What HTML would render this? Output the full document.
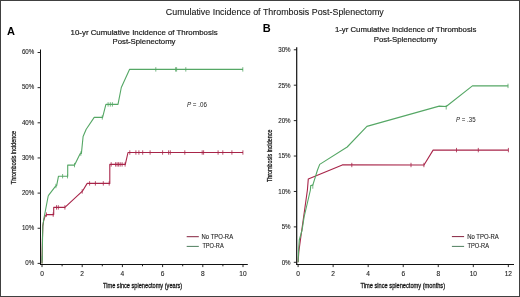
<!DOCTYPE html>
<html><head><meta charset="utf-8"><style>
html,body{margin:0;padding:0;background:#fff;}
body{width:520px;height:297px;overflow:hidden;}
svg{display:block;will-change:transform;}
text{font-family:"Liberation Sans", sans-serif;}
</style></head><body>
<svg width="520" height="297" viewBox="0 0 520 297">
<rect x="0" y="0" width="520" height="297" fill="#fff"/>
<text x="165.8" y="15.0" font-size="9.8" text-anchor="start" font-weight="normal" fill="#1a1a1a" textLength="218" lengthAdjust="spacingAndGlyphs" stroke="#1a1a1a" stroke-width="0.12">Cumulative Incidence of Thrombosis Post-Splenectomy</text>
<text x="6.9" y="34.6" font-size="11" text-anchor="start" font-weight="bold" fill="#000" >A</text>
<text x="70.6" y="34.8" font-size="8.0" text-anchor="start" font-weight="normal" fill="#1a1a1a" textLength="147" lengthAdjust="spacingAndGlyphs" stroke="#1a1a1a" stroke-width="0.2">10-yr Cumulative Incidence of Thrombosis</text>
<text x="112.5" y="44.2" font-size="8.0" text-anchor="start" font-weight="normal" fill="#1a1a1a" textLength="63" lengthAdjust="spacingAndGlyphs" stroke="#1a1a1a" stroke-width="0.2">Post-Splenectomy</text>
<line x1="40.5" y1="49.5" x2="40.5" y2="265" stroke="#111" stroke-width="1"/>
<line x1="40.0" y1="264.5" x2="247.8" y2="264.5" stroke="#111" stroke-width="1"/>
<line x1="37.6" y1="263.40" x2="40.5" y2="263.40" stroke="#111" stroke-width="0.9"/>
<text x="34.3" y="265.2" font-size="6.8" text-anchor="end" font-weight="normal" fill="#222" textLength="8.96" lengthAdjust="spacingAndGlyphs" stroke="#222" stroke-width="0.1">0%</text>
<line x1="37.6" y1="228.25" x2="40.5" y2="228.25" stroke="#111" stroke-width="0.9"/>
<text x="34.3" y="230.04999999999998" font-size="6.8" text-anchor="end" font-weight="normal" fill="#222" textLength="12.41" lengthAdjust="spacingAndGlyphs" stroke="#222" stroke-width="0.1">10%</text>
<line x1="37.6" y1="193.10" x2="40.5" y2="193.10" stroke="#111" stroke-width="0.9"/>
<text x="34.3" y="194.89999999999998" font-size="6.8" text-anchor="end" font-weight="normal" fill="#222" textLength="12.41" lengthAdjust="spacingAndGlyphs" stroke="#222" stroke-width="0.1">20%</text>
<line x1="37.6" y1="157.95" x2="40.5" y2="157.95" stroke="#111" stroke-width="0.9"/>
<text x="34.3" y="159.75" font-size="6.8" text-anchor="end" font-weight="normal" fill="#222" textLength="12.41" lengthAdjust="spacingAndGlyphs" stroke="#222" stroke-width="0.1">30%</text>
<line x1="37.6" y1="122.80" x2="40.5" y2="122.80" stroke="#111" stroke-width="0.9"/>
<text x="34.3" y="124.59999999999998" font-size="6.8" text-anchor="end" font-weight="normal" fill="#222" textLength="12.41" lengthAdjust="spacingAndGlyphs" stroke="#222" stroke-width="0.1">40%</text>
<line x1="37.6" y1="87.65" x2="40.5" y2="87.65" stroke="#111" stroke-width="0.9"/>
<text x="34.3" y="89.44999999999997" font-size="6.8" text-anchor="end" font-weight="normal" fill="#222" textLength="12.41" lengthAdjust="spacingAndGlyphs" stroke="#222" stroke-width="0.1">50%</text>
<line x1="37.6" y1="52.50" x2="40.5" y2="52.50" stroke="#111" stroke-width="0.9"/>
<text x="34.3" y="54.3" font-size="6.8" text-anchor="end" font-weight="normal" fill="#222" textLength="12.41" lengthAdjust="spacingAndGlyphs" stroke="#222" stroke-width="0.1">60%</text>
<line x1="42.00" y1="264.5" x2="42.00" y2="267.1" stroke="#111" stroke-width="0.9"/>
<text x="42.0" y="276.1" font-size="6.8" text-anchor="middle" font-weight="normal" fill="#222" textLength="3.67" lengthAdjust="spacingAndGlyphs" stroke="#222" stroke-width="0.1">0</text>
<line x1="62.10" y1="264.5" x2="62.10" y2="266.3" stroke="#111" stroke-width="0.9"/>
<line x1="82.20" y1="264.5" x2="82.20" y2="267.1" stroke="#111" stroke-width="0.9"/>
<text x="82.2" y="276.1" font-size="6.8" text-anchor="middle" font-weight="normal" fill="#222" textLength="3.67" lengthAdjust="spacingAndGlyphs" stroke="#222" stroke-width="0.1">2</text>
<line x1="102.30" y1="264.5" x2="102.30" y2="266.3" stroke="#111" stroke-width="0.9"/>
<line x1="122.40" y1="264.5" x2="122.40" y2="267.1" stroke="#111" stroke-width="0.9"/>
<text x="122.4" y="276.1" font-size="6.8" text-anchor="middle" font-weight="normal" fill="#222" textLength="3.67" lengthAdjust="spacingAndGlyphs" stroke="#222" stroke-width="0.1">4</text>
<line x1="142.50" y1="264.5" x2="142.50" y2="266.3" stroke="#111" stroke-width="0.9"/>
<line x1="162.60" y1="264.5" x2="162.60" y2="267.1" stroke="#111" stroke-width="0.9"/>
<text x="162.6" y="276.1" font-size="6.8" text-anchor="middle" font-weight="normal" fill="#222" textLength="3.67" lengthAdjust="spacingAndGlyphs" stroke="#222" stroke-width="0.1">6</text>
<line x1="182.70" y1="264.5" x2="182.70" y2="266.3" stroke="#111" stroke-width="0.9"/>
<line x1="202.80" y1="264.5" x2="202.80" y2="267.1" stroke="#111" stroke-width="0.9"/>
<text x="202.8" y="276.1" font-size="6.8" text-anchor="middle" font-weight="normal" fill="#222" textLength="3.67" lengthAdjust="spacingAndGlyphs" stroke="#222" stroke-width="0.1">8</text>
<line x1="222.90" y1="264.5" x2="222.90" y2="266.3" stroke="#111" stroke-width="0.9"/>
<line x1="243.00" y1="264.5" x2="243.00" y2="267.1" stroke="#111" stroke-width="0.9"/>
<text x="243.0" y="276.1" font-size="6.8" text-anchor="middle" font-weight="normal" fill="#222" textLength="7.34" lengthAdjust="spacingAndGlyphs" stroke="#222" stroke-width="0.1">10</text>
<text x="103" y="288.1" font-size="7.6" text-anchor="start" font-weight="normal" fill="#111" textLength="79.2" lengthAdjust="spacingAndGlyphs" stroke="#111" stroke-width="0.28">Time since splenectomy (years)</text>
<g transform="translate(15.6,184.2) rotate(-90)"><text x="0" y="0" font-size="7.0" text-anchor="start" font-weight="normal" fill="#111" textLength="53.2" lengthAdjust="spacingAndGlyphs" stroke="#111" stroke-width="0.25">Thrombosis incidence</text></g>
<path d="M42,263.4 L42.4,240 L42.8,226 L43.7,220.5 L45,216.3 L46.6,214.6 L53.7,214.6 L53.7,207.4 L64.9,207.4 L82.4,191.2 L87.2,183.4 L109.8,183.4 L109.8,164.4 L125.3,164.4 L128,152.5 L243,152.5" fill="none" stroke="#a82549" stroke-width="1.1" stroke-linejoin="round"/>
<path d="M42,263.4 L42.4,245 L42.8,226 L44,218 L48.2,196 L48.7,195.2 L55.6,186.2 L56.6,185.8 L58.5,176.2 L67.7,176.2 L67.7,165.1 L74.6,165.1 L80.1,153.8 L81.4,153.4 L83.1,136.5 L86.2,129.3 L94.2,117.4 L102.6,117.4 L105.9,104.4 L118,104.4 L121.3,87.5 L129.5,69.4 L243,69.4" fill="none" stroke="#55a765" stroke-width="1.1" stroke-linejoin="round"/>
<line x1="46.4" y1="212.4" x2="46.4" y2="216.79999999999998" stroke="#a82549" stroke-width="0.8"/><line x1="53.2" y1="212.4" x2="53.2" y2="216.79999999999998" stroke="#a82549" stroke-width="0.8"/><line x1="56.5" y1="205.20000000000002" x2="56.5" y2="209.6" stroke="#a82549" stroke-width="0.8"/><line x1="58.3" y1="205.20000000000002" x2="58.3" y2="209.6" stroke="#a82549" stroke-width="0.8"/><line x1="64.9" y1="205.20000000000002" x2="64.9" y2="209.6" stroke="#a82549" stroke-width="0.8"/><line x1="82.2" y1="189.20000000000002" x2="82.2" y2="193.6" stroke="#a82549" stroke-width="0.8"/><line x1="89.6" y1="181.20000000000002" x2="89.6" y2="185.6" stroke="#a82549" stroke-width="0.8"/><line x1="95.4" y1="181.20000000000002" x2="95.4" y2="185.6" stroke="#a82549" stroke-width="0.8"/><line x1="103.3" y1="181.20000000000002" x2="103.3" y2="185.6" stroke="#a82549" stroke-width="0.8"/><line x1="109.2" y1="181.20000000000002" x2="109.2" y2="185.6" stroke="#a82549" stroke-width="0.8"/><line x1="111.2" y1="162.20000000000002" x2="111.2" y2="166.6" stroke="#a82549" stroke-width="0.8"/><line x1="115.6" y1="162.20000000000002" x2="115.6" y2="166.6" stroke="#a82549" stroke-width="0.8"/><line x1="117.1" y1="162.20000000000002" x2="117.1" y2="166.6" stroke="#a82549" stroke-width="0.8"/><line x1="118.6" y1="162.20000000000002" x2="118.6" y2="166.6" stroke="#a82549" stroke-width="0.8"/><line x1="120.2" y1="162.20000000000002" x2="120.2" y2="166.6" stroke="#a82549" stroke-width="0.8"/><line x1="122.1" y1="162.20000000000002" x2="122.1" y2="166.6" stroke="#a82549" stroke-width="0.8"/><line x1="125.1" y1="162.20000000000002" x2="125.1" y2="166.6" stroke="#a82549" stroke-width="0.8"/><line x1="129.8" y1="150.3" x2="129.8" y2="154.7" stroke="#a82549" stroke-width="0.8"/><line x1="135.9" y1="150.3" x2="135.9" y2="154.7" stroke="#a82549" stroke-width="0.8"/><line x1="138.9" y1="150.3" x2="138.9" y2="154.7" stroke="#a82549" stroke-width="0.8"/><line x1="142.7" y1="150.3" x2="142.7" y2="154.7" stroke="#a82549" stroke-width="0.8"/><line x1="150.1" y1="150.3" x2="150.1" y2="154.7" stroke="#a82549" stroke-width="0.8"/><line x1="162.6" y1="150.3" x2="162.6" y2="154.7" stroke="#a82549" stroke-width="0.8"/><line x1="168.6" y1="150.3" x2="168.6" y2="154.7" stroke="#a82549" stroke-width="0.8"/><line x1="170.3" y1="150.3" x2="170.3" y2="154.7" stroke="#a82549" stroke-width="0.8"/><line x1="184.8" y1="150.3" x2="184.8" y2="154.7" stroke="#a82549" stroke-width="0.8"/><line x1="202.2" y1="150.3" x2="202.2" y2="154.7" stroke="#a82549" stroke-width="0.8"/><line x1="203.6" y1="150.3" x2="203.6" y2="154.7" stroke="#a82549" stroke-width="0.8"/><line x1="218.1" y1="150.3" x2="218.1" y2="154.7" stroke="#a82549" stroke-width="0.8"/><line x1="222.8" y1="150.3" x2="222.8" y2="154.7" stroke="#a82549" stroke-width="0.8"/><line x1="231.9" y1="150.3" x2="231.9" y2="154.7" stroke="#a82549" stroke-width="0.8"/><line x1="242.9" y1="150.3" x2="242.9" y2="154.7" stroke="#a82549" stroke-width="0.8"/>
<line x1="42.3" y1="255.8" x2="42.3" y2="260.2" stroke="#55a765" stroke-width="0.8"/><line x1="55.9" y1="183.8" x2="55.9" y2="188.2" stroke="#55a765" stroke-width="0.8"/><line x1="62.6" y1="174.0" x2="62.6" y2="178.39999999999998" stroke="#55a765" stroke-width="0.8"/><line x1="67.5" y1="174.0" x2="67.5" y2="178.39999999999998" stroke="#55a765" stroke-width="0.8"/><line x1="74.5" y1="162.9" x2="74.5" y2="167.29999999999998" stroke="#55a765" stroke-width="0.8"/><line x1="80.8" y1="151.4" x2="80.8" y2="155.79999999999998" stroke="#55a765" stroke-width="0.8"/><line x1="102.3" y1="115.2" x2="102.3" y2="119.60000000000001" stroke="#55a765" stroke-width="0.8"/><line x1="108.1" y1="102.2" x2="108.1" y2="106.60000000000001" stroke="#55a765" stroke-width="0.8"/><line x1="110.3" y1="102.2" x2="110.3" y2="106.60000000000001" stroke="#55a765" stroke-width="0.8"/><line x1="112.4" y1="102.2" x2="112.4" y2="106.60000000000001" stroke="#55a765" stroke-width="0.8"/><line x1="155.8" y1="67.2" x2="155.8" y2="71.60000000000001" stroke="#55a765" stroke-width="0.8"/><line x1="175.6" y1="67.2" x2="175.6" y2="71.60000000000001" stroke="#55a765" stroke-width="0.8"/><line x1="176.6" y1="67.2" x2="176.6" y2="71.60000000000001" stroke="#55a765" stroke-width="0.8"/><line x1="185.8" y1="67.2" x2="185.8" y2="71.60000000000001" stroke="#55a765" stroke-width="0.8"/><line x1="242.8" y1="67.2" x2="242.8" y2="71.60000000000001" stroke="#55a765" stroke-width="0.8"/>
<line x1="186.7" y1="236.7" x2="198.8" y2="236.7" stroke="#86233f" stroke-width="1"/>
<line x1="186.7" y1="246.4" x2="198.8" y2="246.4" stroke="#4f7f5e" stroke-width="1"/>
<text x="201.6" y="238.8" font-size="6.5" text-anchor="start" font-weight="normal" fill="#222" textLength="31.5" lengthAdjust="spacingAndGlyphs" stroke="#222" stroke-width="0.1">No TPO-RA</text>
<text x="202.4" y="248.2" font-size="6.5" text-anchor="start" font-weight="normal" fill="#222" textLength="21.3" lengthAdjust="spacingAndGlyphs" stroke="#222" stroke-width="0.1">TPO-RA</text>
<text x="186.9" y="106.7" font-size="6.6" fill="#222" textLength="20" lengthAdjust="spacingAndGlyphs"><tspan font-style="italic">P</tspan> = .06</text>
<text x="262.8" y="31.9" font-size="11" text-anchor="start" font-weight="bold" fill="#000" >B</text>
<text x="334.9" y="32.4" font-size="8.0" text-anchor="start" font-weight="normal" fill="#1a1a1a" textLength="141.6" lengthAdjust="spacingAndGlyphs" stroke="#1a1a1a" stroke-width="0.2">1-yr Cumulative Incidence of Thrombosis</text>
<text x="373.7" y="41.6" font-size="8.0" text-anchor="start" font-weight="normal" fill="#1a1a1a" textLength="63.4" lengthAdjust="spacingAndGlyphs" stroke="#1a1a1a" stroke-width="0.2">Post-Splenectomy</text>
<line x1="296.7" y1="47.3" x2="296.7" y2="265" stroke="#111" stroke-width="1.2"/>
<line x1="296.2" y1="264.5" x2="514" y2="264.5" stroke="#111" stroke-width="1"/>
<line x1="293.8" y1="262.30" x2="296.7" y2="262.30" stroke="#111" stroke-width="0.9"/>
<text x="290.6" y="264.7" font-size="6.8" text-anchor="end" font-weight="normal" fill="#222" textLength="8.96" lengthAdjust="spacingAndGlyphs" stroke="#222" stroke-width="0.1">0%</text>
<line x1="293.8" y1="226.88" x2="296.7" y2="226.88" stroke="#111" stroke-width="0.9"/>
<text x="290.6" y="229.28" font-size="6.8" text-anchor="end" font-weight="normal" fill="#222" textLength="8.96" lengthAdjust="spacingAndGlyphs" stroke="#222" stroke-width="0.1">5%</text>
<line x1="293.8" y1="191.46" x2="296.7" y2="191.46" stroke="#111" stroke-width="0.9"/>
<text x="290.6" y="193.86" font-size="6.8" text-anchor="end" font-weight="normal" fill="#222" textLength="12.41" lengthAdjust="spacingAndGlyphs" stroke="#222" stroke-width="0.1">10%</text>
<line x1="293.8" y1="156.04" x2="296.7" y2="156.04" stroke="#111" stroke-width="0.9"/>
<text x="290.6" y="158.44000000000003" font-size="6.8" text-anchor="end" font-weight="normal" fill="#222" textLength="12.41" lengthAdjust="spacingAndGlyphs" stroke="#222" stroke-width="0.1">15%</text>
<line x1="293.8" y1="120.62" x2="296.7" y2="120.62" stroke="#111" stroke-width="0.9"/>
<text x="290.6" y="123.02000000000001" font-size="6.8" text-anchor="end" font-weight="normal" fill="#222" textLength="12.41" lengthAdjust="spacingAndGlyphs" stroke="#222" stroke-width="0.1">20%</text>
<line x1="293.8" y1="85.20" x2="296.7" y2="85.20" stroke="#111" stroke-width="0.9"/>
<text x="290.6" y="87.6" font-size="6.8" text-anchor="end" font-weight="normal" fill="#222" textLength="12.41" lengthAdjust="spacingAndGlyphs" stroke="#222" stroke-width="0.1">25%</text>
<line x1="293.8" y1="49.78" x2="296.7" y2="49.78" stroke="#111" stroke-width="0.9"/>
<text x="290.6" y="52.18" font-size="6.8" text-anchor="end" font-weight="normal" fill="#222" textLength="12.41" lengthAdjust="spacingAndGlyphs" stroke="#222" stroke-width="0.1">30%</text>
<line x1="298.10" y1="264.5" x2="298.10" y2="267.1" stroke="#111" stroke-width="0.9"/>
<text x="298.1" y="276.0" font-size="6.8" text-anchor="middle" font-weight="normal" fill="#222" textLength="3.67" lengthAdjust="spacingAndGlyphs" stroke="#222" stroke-width="0.1">0</text>
<line x1="333.14" y1="264.5" x2="333.14" y2="267.1" stroke="#111" stroke-width="0.9"/>
<text x="333.14" y="276.0" font-size="6.8" text-anchor="middle" font-weight="normal" fill="#222" textLength="3.67" lengthAdjust="spacingAndGlyphs" stroke="#222" stroke-width="0.1">2</text>
<line x1="368.18" y1="264.5" x2="368.18" y2="267.1" stroke="#111" stroke-width="0.9"/>
<text x="368.18" y="276.0" font-size="6.8" text-anchor="middle" font-weight="normal" fill="#222" textLength="3.67" lengthAdjust="spacingAndGlyphs" stroke="#222" stroke-width="0.1">4</text>
<line x1="403.22" y1="264.5" x2="403.22" y2="267.1" stroke="#111" stroke-width="0.9"/>
<text x="403.22" y="276.0" font-size="6.8" text-anchor="middle" font-weight="normal" fill="#222" textLength="3.67" lengthAdjust="spacingAndGlyphs" stroke="#222" stroke-width="0.1">6</text>
<line x1="438.26" y1="264.5" x2="438.26" y2="267.1" stroke="#111" stroke-width="0.9"/>
<text x="438.26" y="276.0" font-size="6.8" text-anchor="middle" font-weight="normal" fill="#222" textLength="3.67" lengthAdjust="spacingAndGlyphs" stroke="#222" stroke-width="0.1">8</text>
<line x1="473.30" y1="264.5" x2="473.30" y2="267.1" stroke="#111" stroke-width="0.9"/>
<text x="473.3" y="276.0" font-size="6.8" text-anchor="middle" font-weight="normal" fill="#222" textLength="7.34" lengthAdjust="spacingAndGlyphs" stroke="#222" stroke-width="0.1">10</text>
<line x1="508.34" y1="264.5" x2="508.34" y2="267.1" stroke="#111" stroke-width="0.9"/>
<text x="508.34" y="276.0" font-size="6.8" text-anchor="middle" font-weight="normal" fill="#222" textLength="7.34" lengthAdjust="spacingAndGlyphs" stroke="#222" stroke-width="0.1">12</text>
<text x="360.5" y="288.1" font-size="7.6" text-anchor="start" font-weight="normal" fill="#111" textLength="84.6" lengthAdjust="spacingAndGlyphs" stroke="#111" stroke-width="0.28">Time since splenectomy (months)</text>
<g transform="translate(272.4,182) rotate(-90)"><text x="0" y="0" font-size="7.0" text-anchor="start" font-weight="normal" fill="#111" textLength="52.4" lengthAdjust="spacingAndGlyphs" stroke="#111" stroke-width="0.25">Thrombosis incidence</text></g>
<path d="M298.1,262.3 L298.8,252 L300.4,240 L307.4,190 L308.3,178.9 L342.3,164.9 L424,165.0 L433.1,150.1 L508.4,150.1" fill="none" stroke="#a82549" stroke-width="1.1" stroke-linejoin="round"/>
<path d="M298.1,262.3 L298.6,250 L299.3,240 L302.1,230 L304.1,217 L310.4,190 L310.7,185.6 L312.8,185.1 L317.5,170 L319.7,164.4 L347.2,147.0 L366.9,126.4 L439.2,106.1 L446.2,106.5 L472.4,85.9 L508.2,85.9" fill="none" stroke="#55a765" stroke-width="1.1" stroke-linejoin="round"/>
<line x1="351.8" y1="162.8" x2="351.8" y2="167.2" stroke="#a82549" stroke-width="0.8"/><line x1="411" y1="162.8" x2="411" y2="167.2" stroke="#a82549" stroke-width="0.8"/><line x1="423.9" y1="162.8" x2="423.9" y2="167.2" stroke="#a82549" stroke-width="0.8"/><line x1="456.5" y1="147.9" x2="456.5" y2="152.29999999999998" stroke="#a82549" stroke-width="0.8"/><line x1="478.3" y1="147.9" x2="478.3" y2="152.29999999999998" stroke="#a82549" stroke-width="0.8"/><line x1="508.4" y1="147.9" x2="508.4" y2="152.29999999999998" stroke="#a82549" stroke-width="0.8"/>
<line x1="312.8" y1="184.3" x2="312.8" y2="188.7" stroke="#55a765" stroke-width="0.8"/><line x1="446.2" y1="105.1" x2="446.2" y2="109.5" stroke="#55a765" stroke-width="0.8"/><line x1="508" y1="83.7" x2="508" y2="88.10000000000001" stroke="#55a765" stroke-width="0.8"/>
<line x1="451.9" y1="236.6" x2="464.1" y2="236.6" stroke="#86233f" stroke-width="1"/>
<line x1="451.9" y1="246.4" x2="464.1" y2="246.4" stroke="#4f7f5e" stroke-width="1"/>
<text x="467.2" y="238.9" font-size="6.5" text-anchor="start" font-weight="normal" fill="#222" textLength="31.6" lengthAdjust="spacingAndGlyphs" stroke="#222" stroke-width="0.1">No TPO-RA</text>
<text x="467.4" y="248.2" font-size="6.5" text-anchor="start" font-weight="normal" fill="#222" textLength="21.6" lengthAdjust="spacingAndGlyphs" stroke="#222" stroke-width="0.1">TPO-RA</text>
<text x="456.1" y="122.0" font-size="6.6" fill="#222" textLength="19.5" lengthAdjust="spacingAndGlyphs"><tspan font-style="italic">P</tspan> = .35</text>
<rect x="0" y="0" width="520" height="1" fill="#404040"/>
<rect x="0" y="296" width="520" height="1" fill="#404040"/>
<rect x="0" y="0" width="1" height="297" fill="#404040"/>
<rect x="519" y="0" width="1" height="297" fill="#404040"/>
</svg>
</body></html>
